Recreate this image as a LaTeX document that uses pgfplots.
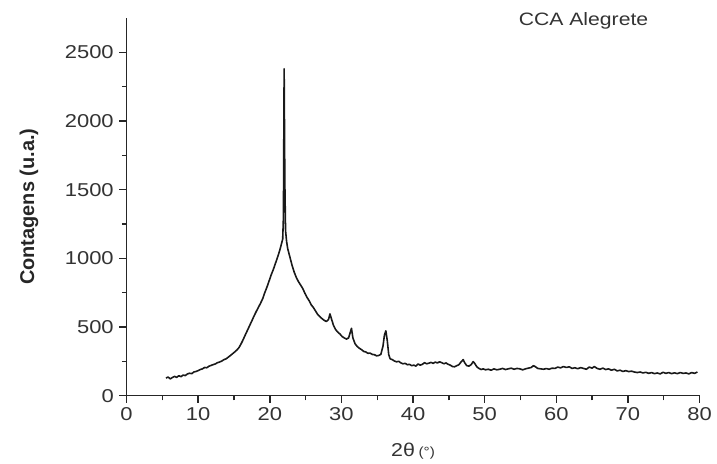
\documentclass[border=0pt]{standalone}
\usepackage{fontspec}
\setmainfont{Liberation Sans}
\usepackage{pgfplots}
\pgfplotsset{compat=1.18}
\begin{document}
\begin{tikzpicture}
\begin{axis}[
  scale only axis,
  width=431.25pt, height=284.25pt,
  xmin=0, xmax=80, ymin=0, ymax=2750,
  clip=false,
  axis x line*=bottom, axis y line*=left,
  x axis line style={-}, y axis line style={-},
  axis line style={line width=1.2pt, black!85},
  every tick/.style={line width=1.1pt, black!85},
  tick align=outside,
  major tick length=5.5pt, minor tick length=3.5pt,
  xtick={0,10,...,80}, ytick={0,500,...,2500},
  minor x tick num=1, minor y tick num=1,
  /pgf/number format/assume math mode=true,
  /pgf/number format/1000 sep={},
  tick label style={font=\fontsize{14}{14}\selectfont, text=black!80, xscale=1.18},
]
\addplot[black!90, line width=1.2pt, line join=round] coordinates {
(5.5,128)(5.8,135)(6.1,122)(6.4,132)(6.7,140)(7.0,133)(7.3,145)(7.6,138)(7.9,150)(8.2,146)
(8.5,158)(8.8,163)(9.1,160)(9.4,172)(9.7,176)(10.0,182)(10.3,190)(10.6,195)(10.9,205)(11.2,203)
(11.5,214)(11.8,220)(12.1,226)(12.4,231)(12.7,240)(13.0,245)(13.3,252)(13.6,262)(13.9,268)(14.2,280)
(14.5,292)(14.8,305)(15.1,318)(15.4,332)(15.7,350)(16.0,378)(16.3,410)(16.6,445)(16.9,478)(17.2,512)
(17.5,545)(17.8,580)(18.1,612)(18.4,642)(18.7,672)(19.0,705)(19.3,750)(19.6,790)(19.9,835)(20.2,880)
(20.5,920)(20.8,965)(21.1,1010)(21.4,1060)(21.6,1100)(21.8,1140)(21.9,1300)(22.0,2380)(22.1,1550)(22.2,1200)
(22.35,1120)(22.5,1070)(22.8,1010)(23.1,950)(23.4,900)(23.7,860)(24.0,830)(24.3,805)(24.6,780)(24.9,745)
(25.2,715)(25.5,690)(25.8,660)(26.1,640)(26.4,615)(26.7,590)(27.0,575)(27.3,560)(27.6,548)(27.9,540)
(28.2,555)(28.4,595)(28.6,560)(28.9,510)(29.2,480)(29.5,462)(29.8,448)(30.1,430)(30.4,420)(30.7,412)
(31.0,420)(31.2,455)(31.4,490)(31.6,420)(31.9,378)(32.2,358)(32.5,345)(32.8,335)(33.1,322)(33.4,318)
(33.7,308)(34.0,310)(34.3,300)(34.6,298)(34.9,290)(35.2,292)(35.5,300)(35.8,360)(36.0,440)(36.2,472)
(36.4,400)(36.6,300)(36.8,268)(37.1,262)(37.4,252)(37.7,246)(38.0,250)(38.3,238)(38.6,232)(38.9,235)
(39.2,225)(39.5,228)(39.8,218)(40.1,222)(40.4,215)(40.7,230)(41.0,222)(41.3,228)(41.6,240)(41.9,232)
(42.2,236)(42.5,242)(42.8,235)(43.1,244)(43.4,238)(43.7,246)(44.0,240)(44.3,232)(44.6,238)(44.9,228)
(45.2,222)(45.5,212)(45.8,210)(46.1,218)(46.4,225)(46.7,245)(47.0,262)(47.2,240)(47.5,218)(47.8,215)
(48.1,225)(48.4,248)(48.6,235)(48.9,210)(49.2,198)(49.5,190)(49.8,195)(50.1,188)(50.5,192)(50.9,185)
(51.3,195)(51.7,188)(52.1,192)(52.5,198)(52.9,190)(53.3,195)(53.7,200)(54.1,192)(54.5,198)(54.9,195)
(55.3,188)(55.7,195)(56.1,200)(56.5,205)(56.8,218)(57.1,210)(57.4,198)(57.8,195)(58.2,192)(58.6,197)
(59.0,192)(59.4,200)(59.8,198)(60.2,208)(60.6,202)(61.0,212)(61.4,205)(61.8,210)(62.2,198)(62.6,203)
(63.0,196)(63.4,204)(63.8,198)(64.2,192)(64.6,208)(65.0,200)(65.3,212)(65.7,198)(66.1,192)(66.5,200)
(66.9,190)(67.3,195)(67.7,185)(68.1,192)(68.5,180)(68.9,185)(69.3,176)(69.7,182)(70.1,175)(70.5,178)
(70.9,172)(71.3,168)(71.7,172)(72.1,165)(72.5,170)(72.9,162)(73.3,168)(73.7,160)(74.1,165)(74.5,158)
(74.9,170)(75.3,162)(75.7,168)(76.1,160)(76.5,166)(76.9,160)(77.3,168)(77.7,162)(78.1,165)(78.5,158)
(78.9,168)(79.3,162)(79.7,172)
};
\node[rotate=90, font=\bfseries\fontsize{15}{15}\selectfont, text=black!85] at (axis cs:-13.63,1375) {Contagens (u.a.)};
\node[font=\fontsize{14}{14}\selectfont, text=black!80, xscale=1.15] at (axis cs:40,-406) {2θ\,{\fontsize{10}{10}\selectfont(°)}};
\node[font=\fontsize{13.5}{13.5}\selectfont, text=black!80, xscale=1.18] at (axis cs:63.8,2732) {CCA Alegrete};
\path (axis cs:-17.67,-493.4) rectangle (axis cs:82.09,2880.6);
\end{axis}
\end{tikzpicture}
\end{document}
